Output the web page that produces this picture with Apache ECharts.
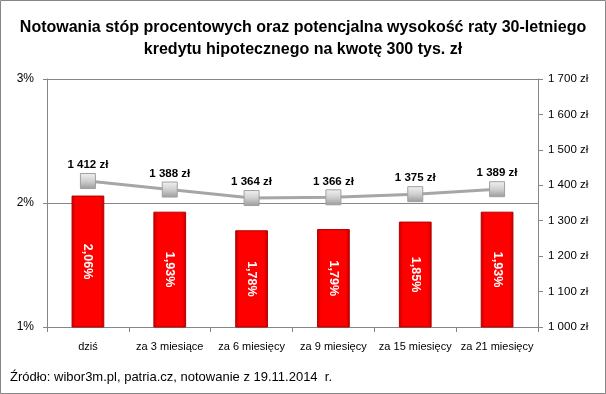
<!DOCTYPE html>
<html><head><meta charset="utf-8">
<script src="https://cdn.jsdelivr.net/npm/echarts@6/dist/echarts.min.js"></script>
<style>html,body{margin:0;padding:0;background:#fff}#c{width:606px;height:394px}</style>
</head><body><div id="c"></div>
<script>
const categories = ['dziś','za 3 miesiące','za 6 miesięcy','za 9 miesięcy','za 15 miesięcy','za 21 miesięcy'];
const rates = [2.06, 1.93, 1.78, 1.79, 1.85, 1.93];
const installments = [1412, 1388, 1364, 1366, 1375, 1389];
const leftTicks = {min: 1, max: 3, interval: 1};
const rightTicks = {min: 1000, max: 1700, interval: 100};
const titleText = 'Notowania stóp procentowych oraz potencjalna wysokość raty 30-letniego\nkredytu hipotecznego na kwotę 300 tys. zł';
const sourceText = 'Źródło: wibor3m.pl, patria.cz, notowanie z 19.11.2014  r.';

function zl(v){ return String(v).replace(/\B(?=(\d{3})+(?!\d))/g,' ') + ' zł'; }
function pct(v){ return v.toFixed(2).replace('.', ',') + '%'; }

const chart = echarts.init(document.getElementById('c'), null, {renderer:'canvas'});
const FONT = 'Liberation Sans, Arial, sans-serif';
chart.setOption({
  animation: false,
  textStyle: {fontFamily: FONT},
  title: {
    text: titleText, left: 'center', top: 12,
    textStyle: {fontFamily: FONT, fontSize: 16, fontWeight: 'bold', color: '#000', lineHeight: 22}
  },
  graphic: [
    {type:'rect', shape:{x:0.5,y:0.5,width:605,height:393}, style:{fill:'none', stroke:'#868686', lineWidth:1}, silent:true},
    {type:'text', left: 10, top: 371, style:{text: sourceText, font: '13px '+FONT, fill:'#000'}}
  ],
  grid: {left: 47, right: 68, top: 79, bottom: 67},
  xAxis: {
    type: 'category', data: categories,
    axisLine: {lineStyle: {color: '#868686'}},
    axisTick: {show: true, alignWithLabel: false, length: 5, lineStyle: {color: '#868686'}},
    axisLabel: {color: '#000', fontSize: 11, margin: 14, interval: 0}
  },
  yAxis: [
    {
      type: 'value', min: leftTicks.min, max: leftTicks.max, interval: leftTicks.interval, position: 'left',
      axisLine: {show: true, lineStyle: {color: '#868686'}},
      axisTick: {show: true, length: 4, lineStyle: {color: '#868686'}},
      splitLine: {show: true, lineStyle: {color: '#868686', width: 1}},
      axisLabel: {formatter: v => v + '%', color: '#000', fontSize: 12, margin: 13}
    },
    {
      type: 'value', min: rightTicks.min, max: rightTicks.max, interval: rightTicks.interval, position: 'right',
      axisLine: {show: true, lineStyle: {color: '#868686'}},
      axisTick: {show: true, length: 5, lineStyle: {color: '#868686'}},
      splitLine: {show: false},
      axisLabel: {formatter: v => zl(v), color: '#000', fontSize: 11.5, margin: 10}
    }
  ],
  series: [
    {
      type: 'bar', yAxisIndex: 0, data: rates, barWidth: '40%',
      itemStyle: {
        color: new echarts.graphic.LinearGradient(0,0,1,0,[
          {offset:0, color:'#C00000'},{offset:0.12, color:'#FF0000'},{offset:0.88, color:'#FF0000'},{offset:1, color:'#C00000'}
        ]),
        borderColor: '#B00000', borderWidth: 1
      },
      label: {
        show: true, position: 'inside', rotate: -90, color: '#fff', fontWeight: 'bold', fontSize: 12.5,
        formatter: p => pct(p.value)
      },
      z: 2
    },
    {
      type: 'line', yAxisIndex: 1, data: installments,
      lineStyle: {color: '#A6A6A6', width: 3},
      symbol: 'rect', symbolSize: 15,
      itemStyle: {
        color: new echarts.graphic.LinearGradient(0,0,0,1,[
          {offset:0, color:'#F2F2F2'},{offset:0.5, color:'#D0D0D0'},{offset:1, color:'#9A9A9A'}
        ]),
        borderColor: '#A0A0A0', borderWidth: 1
      },
      label: {
        show: true, position: 'top', distance: 2, color: '#000', fontWeight: 'bold', fontSize: 11.5,
        formatter: p => zl(p.value)
      },
      z: 3
    }
  ]
});
</script></body></html>
